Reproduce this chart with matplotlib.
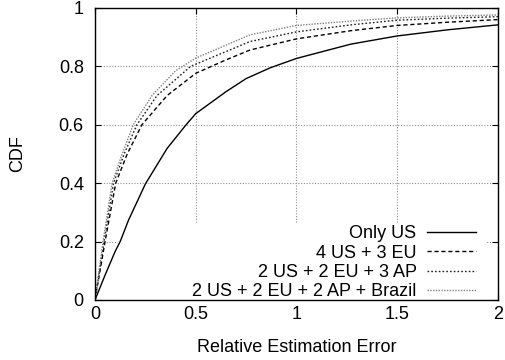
import numpy as np
import matplotlib
matplotlib.use('Agg')
import matplotlib.pyplot as plt
from matplotlib.patches import Rectangle

plt.rcParams['font.family'] = ['Liberation Sans', 'DejaVu Sans']

# CDF curves (x = relative estimation error)
us_x = [0, 0.05, 0.1, 0.125, 0.167, 0.25, 0.358, 0.45, 0.5, 0.65, 0.75, 0.87, 1.0, 1.27, 1.5, 1.75, 2.0]
us_y = [0.0, 0.085, 0.166, 0.2, 0.274, 0.397, 0.519, 0.598, 0.638, 0.713, 0.758, 0.795, 0.827, 0.876, 0.904, 0.925, 0.942]

eu_x = [0, 0.05, 0.103, 0.16, 0.233, 0.358, 0.5, 0.65, 0.77, 1.0, 1.27, 1.5, 1.75, 2.0]
eu_y = [0.0, 0.2, 0.4, 0.5, 0.6, 0.7, 0.776, 0.822, 0.856, 0.894, 0.922, 0.94, 0.951, 0.96]

ap_x = [0, 0.045, 0.092, 0.145, 0.208, 0.308, 0.475, 0.77, 1.0, 1.27, 1.5, 1.75, 2.0]
ap_y = [0.0, 0.2, 0.4, 0.5, 0.6, 0.7, 0.80, 0.885, 0.918, 0.942, 0.958, 0.965, 0.97]

br_x = [0, 0.04, 0.085, 0.135, 0.19, 0.283, 0.40, 0.5, 0.77, 1.0, 1.27, 1.5, 1.75, 2.0]
br_y = [0.0, 0.2, 0.4, 0.5, 0.6, 0.7, 0.785, 0.828, 0.908, 0.94, 0.955, 0.966, 0.972, 0.976]

labels = ['Only US', '4 US + 3 EU', '2 US + 2 EU + 3 AP', '2 US + 2 EU + 2 AP + Brazil']

fig = plt.figure(figsize=(5.06, 3.6), dpi=100)
ax = fig.add_axes([0.1877, 0.1667, 0.7963, 0.8113])
ax.set_axisbelow(True)

ax.plot(us_x, us_y, color='black', lw=1.0, ls='-', label=labels[0])
ax.plot(eu_x, eu_y, color='black', lw=1.0, ls=(0, (3, 2)), label=labels[1])
ax.plot(ap_x, ap_y, color='#202020', lw=1.0, ls=(0, (1.2, 1.5)), label=labels[2])
ax.plot(br_x, br_y, color='#808080', lw=1.0, ls=(0, (1, 1)), label=labels[3])

ax.set_xlim(0, 2)
ax.set_ylim(0, 1)
ax.set_xticks([0, 0.5, 1, 1.5, 2])
ax.set_xticklabels(['0', '0.5', '1', '1.5', '2'])
ax.set_yticks([0, 0.2, 0.4, 0.6, 0.8, 1])
ax.set_yticklabels(['0', '0.2', '0.4', '0.6', '0.8', '1'])
ax.tick_params(direction='in', length=4.5, width=0.8, top=True, right=True,
               labelsize=13)
ax.tick_params(axis='x', pad=4)
ax.tick_params(axis='y', pad=8)
ax.grid(True, color='#909090', ls=(0, (1, 1.5)), lw=0.8)
for s in ax.spines.values():
    s.set_linewidth(1.0)
    s.set_zorder(3)

ax.set_xlabel('Relative Estimation Error', fontsize=13)
ax.xaxis.set_label_coords(0.5, -0.135)
ax.set_ylabel('CDF', fontsize=13)
ax.yaxis.set_label_coords(-0.17, 0.5)

# opaque key area (hides the grid like gnuplot's key box)
ax.add_patch(Rectangle((0.057, 0.0), 0.916, 0.264, transform=ax.transAxes,
                       facecolor='white', edgecolor='none', zorder=1))

leg = ax.legend(loc='lower right', bbox_to_anchor=(0.946, 0.0), markerfirst=False,
                fontsize=13, handlelength=2.7, handletextpad=0.6,
                labelspacing=0.12, borderpad=0.0, borderaxespad=0.0,
                frameon=False)
for t in leg.get_texts():
    t.set_ha('right')

fig.savefig('out.png', dpi=100)
